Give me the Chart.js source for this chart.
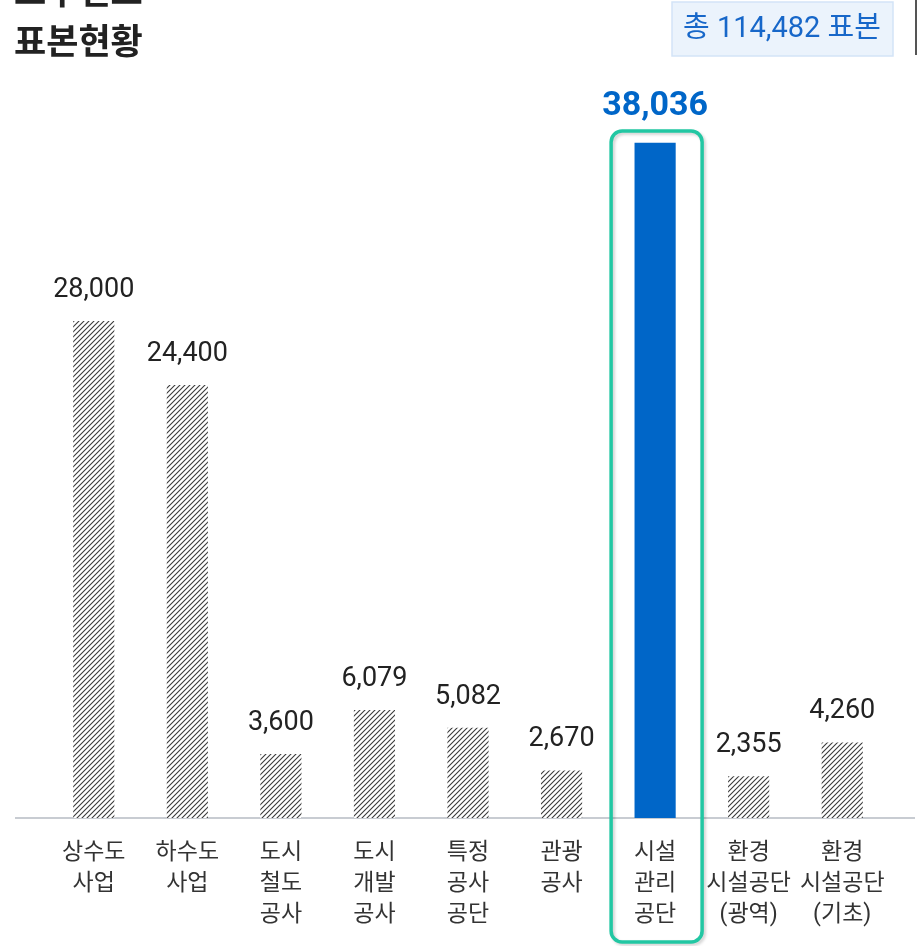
<!DOCTYPE html>
<html lang="ko">

<head>
    <meta charset="UTF-8">
    <title>표본현황</title>
    <script src="https://cdn.jsdelivr.net/npm/chart.js"></script>
    <style>
        html, body {
            margin: 0;
            padding: 0;
            background: #FFFFFF;
        }

        canvas {
            display: block;
        }
    </style>
</head>

<body>
    <canvas id="sampleChart" width="922" height="946"></canvas>

    <script>
        // 기관 유형별 표본 수
        const categories = [
            ['상수도', '사업'],
            ['하수도', '사업'],
            ['도시', '철도', '공사'],
            ['도시', '개발', '공사'],
            ['특정', '공사', '공단'],
            ['관광', '공사'],
            ['시설', '관리', '공단'],
            ['환경', '시설공단', '(광역)'],
            ['환경', '시설공단', '(기초)']
        ];
        const samples = [28000, 24400, 3600, 6079, 5082, 2670, 38036, 2355, 4260];
        const highlightIndex = 6;
        const totalText = '총 114,482 표본';

        const FONT = "Roboto, 'Noto Sans CJK KR', sans-serif";
        const BLUE = '#0066C8';

        // 빗금 패턴
        function makeHatch() {
            const size = 5;
            const c = document.createElement('canvas');
            c.width = size;
            c.height = size;
            const g = c.getContext('2d');
            g.fillStyle = '#FFFFFF';
            g.fillRect(0, 0, size, size);
            g.strokeStyle = '#3A3A3A';
            g.lineWidth = 1.1;
            g.beginPath();
            g.moveTo(0, size);
            g.lineTo(size, 0);
            g.moveTo(-1, 1);
            g.lineTo(1, -1);
            g.moveTo(size - 1, size + 1);
            g.lineTo(size + 1, size - 1);
            g.stroke();
            return g.createPattern(c, 'repeat');
        }

        const ctx = document.getElementById('sampleChart');
        const hatch = makeHatch();

        // 제목, 총계 배지, 기준선, 강조 박스
        const decorations = {
            id: 'decorations',
            beforeDatasetsDraw(chart) {
                const c = chart.ctx;
                c.save();

                c.fillStyle = '#222222';
                c.font = "bold 35px 'Noto Sans CJK KR', sans-serif";
                c.textAlign = 'left';
                c.textBaseline = 'middle';
                c.fillText('모수현표', 14, -9);
                c.fillText('표본현황', 14, 41);

                c.fillStyle = '#EBF3FC';
                c.strokeStyle = '#D3E4F7';
                c.lineWidth = 1.5;
                c.fillRect(672, 2, 221, 54);
                c.strokeRect(672, 2, 221, 54);
                c.fillStyle = '#1767C9';
                c.font = "29px Roboto, 'Noto Sans CJK KR', sans-serif";
                c.textAlign = 'center';
                c.fillText(totalText, 782, 30);

                c.strokeStyle = '#555555';
                c.lineWidth = 2;
                c.beginPath();
                c.moveTo(916, 0);
                c.lineTo(916, 55);
                c.stroke();

                c.strokeStyle = '#C8CCD2';
                c.lineWidth = 2;
                c.beginPath();
                c.moveTo(15, chart.chartArea.bottom);
                c.lineTo(915, chart.chartArea.bottom);
                c.stroke();

                const bar = chart.getDatasetMeta(0).data[highlightIndex];
                c.shadowColor = 'rgba(0,0,0,0.18)';
                c.shadowBlur = 3;
                c.shadowOffsetX = 2;
                c.shadowOffsetY = 2;
                c.strokeStyle = '#22C7A3';
                c.lineWidth = 3.5;
                c.beginPath();
                c.roundRect(bar.x - 44, 131, 91, 811, 11);
                c.stroke();

                c.restore();
            },
            afterDatasetsDraw(chart) {
                const c = chart.ctx;
                c.save();
                c.textAlign = 'center';
                c.textBaseline = 'middle';
                chart.getDatasetMeta(0).data.forEach((bar, i) => {
                    const text = samples[i].toLocaleString('en-US');
                    if (i === highlightIndex) {
                        c.fillStyle = BLUE;
                        c.font = 'bold 34px ' + FONT;
                        c.fillText(text, bar.x, bar.y - 36);
                    } else {
                        c.fillStyle = '#222222';
                        c.font = '27px ' + FONT;
                        c.fillText(text, bar.x, bar.y - 31);
                    }
                });
                c.restore();
            }
        };

        new Chart(ctx, {
            type: 'bar',
            data: {
                labels: categories,
                datasets: [{
                    data: samples,
                    backgroundColor: samples.map((v, i) => i === highlightIndex ? BLUE : hatch),
                    borderWidth: 0,
                    barPercentage: 0.44,
                    categoryPercentage: 1
                }]
            },
            options: {
                responsive: false,
                animation: false,
                layout: {
                    padding: { left: 47, right: 33, top: 108, bottom: 0 }
                },
                plugins: {
                    legend: { display: false },
                    tooltip: { enabled: false }
                },
                scales: {
                    y: {
                        display: false,
                        min: 0,
                        max: 40000
                    },
                    x: {
                        grid: { display: false, drawTicks: false },
                        border: { display: false },
                        ticks: {
                            color: '#333333',
                            font: { family: FONT, size: 23, lineHeight: 1.35 },
                            padding: 20,
                            maxRotation: 0,
                            autoSkip: false
                        },
                        afterFit(scale) {
                            scale.height = 128;
                        }
                    }
                }
            },
            plugins: [decorations]
        });
    </script>
</body>

</html>
